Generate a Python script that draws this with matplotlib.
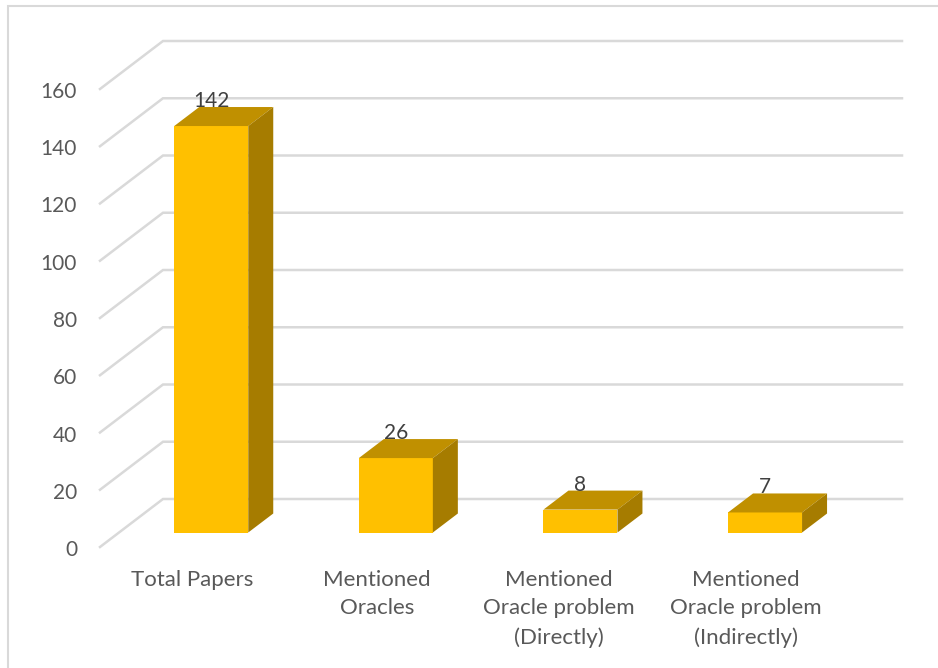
import matplotlib
matplotlib.use('Agg')
import matplotlib.pyplot as plt
from matplotlib.patches import Polygon, Rectangle

categories = ['Total Papers', 'Mentioned\nOracles',
              'Mentioned\nOracle problem\n(Directly)',
              'Mentioned\nOracle problem\n(Indirectly)']
values = [142, 26, 8, 7]
y_ticks = [0, 20, 40, 60, 80, 100, 120, 140, 160]

FRONT = '#ffc000'
TOP = '#c09000'
SIDE = '#a67c00'
GRID = '#d9d9d9'
TEXT = '#595959'

# one x unit is the category spacing, one y unit is one paper
PX_X = 184.6
PX_Y = 2.8625
X0 = 211.25
Y0 = 532.5


def px_x(n):
    return n / PX_X


def px_y(n):
    return n / PX_Y


plt.rcParams['font.family'] = ['Lato', 'DejaVu Sans']

fig = plt.figure(figsize=(9.38, 6.68), dpi=100)
ax = fig.add_axes([0, 0, 1, 1])
ax.set_xlim(-X0 / PX_X, (938 - X0) / PX_X)
ax.set_ylim((Y0 - 668) / PX_Y, Y0 / PX_Y)
ax.axis('off')

# chart frame, only left and top show up
ax.plot([px_x(8.5 - X0), px_x(8.5 - X0), px_x(938 - X0)],
        [px_y(Y0 - 668), px_y(Y0 - 5.5), px_y(Y0 - 5.5)],
        color=GRID, lw=1.5, solid_joinstyle='miter', zorder=1)

# gridlines: slanted floor part, then the back wall part
wall_x0 = px_x(100 - X0)
wall_x1 = px_x(163 - X0)
wall_x2 = px_x(902 - X0)
floor_front = px_y(Y0 - 547)
floor_back = px_y(Y0 - 499)
for t in y_ticks:
    ax.plot([wall_x0, wall_x1, wall_x2], [t + floor_front, t + floor_back, t + floor_back],
            color=GRID, lw=1.8, solid_joinstyle='miter', zorder=2)
    ax.text(px_x(77 - X0), t + floor_front - px_y(3), str(t), ha='right', va='center',
            fontsize=15, color=TEXT)

# bars
half_w = px_x(37)
depth_x = px_x(25)
depth_y = px_y(19)
for i, v in enumerate(values):
    l, r = i - half_w, i + half_w
    ax.add_patch(Rectangle((l, 0), r - l, v, fc=FRONT, ec='none', zorder=4))
    ax.add_patch(Polygon([(l, v), (r, v), (r + depth_x, v + depth_y), (l + depth_x, v + depth_y)],
                         closed=True, fc=TOP, ec='none', zorder=4))
    ax.add_patch(Polygon([(r, 0), (r, v), (r + depth_x, v + depth_y), (r + depth_x, depth_y)],
                         closed=True, fc=SIDE, ec='none', zorder=4))
    ax.text(i, v + px_y(25), str(v), ha='center', va='center', fontsize=15,
            color='#404040', zorder=5)

# category labels sit a little left of their bars
label_x = [192.5, 377, 559, 746]
for lx, name in zip(label_x, categories):
    ax.text(px_x(lx - X0), px_y(Y0 - 570), name, ha='center', va='top', fontsize=16,
            color=TEXT, linespacing=1.53)

fig.savefig('out.png', dpi=100)
